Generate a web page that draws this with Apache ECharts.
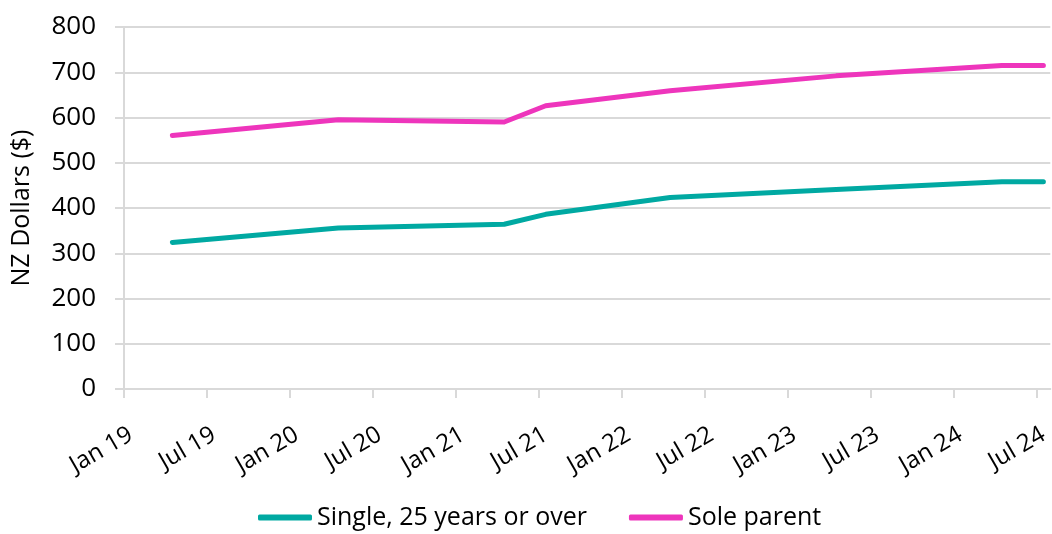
<!DOCTYPE html>
<html>
<head>
<meta charset="utf-8">
<script src="https://cdn.jsdelivr.net/npm/echarts@6/dist/echarts.min.js"></script>
<style>
html,body{margin:0;padding:0;background:#fff;}
#chart{width:1052px;height:534px;}
</style>
</head>
<body>
<div id="chart"></div>
<script>
// Data (dates are year-month of each observation)
const dates = ["2019-04", "2020-04", "2021-04", "2021-07", "2022-04", "2023-04", "2024-04", "2024-07"];
const single25 = [324, 356, 364, 386, 423, 441, 458, 458];
const soleParent = [560, 595, 590, 626, 659, 692, 715, 715];
const seriesNames = ["Single, 25 years or over", "Sole parent"];
const monthNames = ["Jan","Feb","Mar","Apr","May","Jun","Jul","Aug","Sep","Oct","Nov","Dec"];
const startYear = 2019;

// month index (months since Jan 2019), centred in its month slot
function monthIndex(d) {
  const [y, m] = d.split("-").map(Number);
  return (y - startYear) * 12 + (m - 1) + 0.5;
}
function tickLabel(v) {
  if (Math.abs(v - Math.round(v)) > 1e-6) return "";
  const n = Math.round(v);
  if (n % 6 !== 0) return "";
  const y = startYear + Math.floor(n / 12);
  return monthNames[n % 12] + " " + String(y).slice(2);
}

const font = "'Open Sans', 'Noto Sans', sans-serif";
const gridColor = "#d9d9d9";

const chart = echarts.init(document.getElementById("chart"), null, {renderer: "canvas"});
chart.setOption({
  animation: false,
  textStyle: {fontFamily: font, color: "#000"},
  grid: {left: 124, right: 0, top: 27, bottom: 145, containLabel: false},
  legend: {
    bottom: -1,
    left: 253,
    icon: "roundRect",
    itemWidth: 54,
    itemHeight: 6,
    itemGap: 42,
    textStyle: {fontFamily: font, fontSize: 25, color: "#000"},
    data: seriesNames
  },
  xAxis: {
    type: "value",
    min: 0,
    max: 67,
    interval: 6,
    axisLine: {show: true, lineStyle: {color: gridColor, width: 2}},
    axisTick: {show: true, length: 9, lineStyle: {color: gridColor, width: 2}},
    splitLine: {show: false},
    axisLabel: {
      rotate: 30,
      fontFamily: font,
      fontSize: 24,
      color: "#000",
      margin: 48,
      padding: [0, -8, 0, 0],
      showMaxLabel: false,
      formatter: tickLabel
    }
  },
  yAxis: {
    type: "value",
    min: 0,
    max: 800,
    interval: 100,
    name: "NZ Dollars ($)",
    nameLocation: "middle",
    nameGap: 90,
    nameRotate: 90,
    nameTextStyle: {fontFamily: font, fontSize: 25, color: "#000"},
    axisLine: {show: true, lineStyle: {color: gridColor, width: 2}},
    axisTick: {show: true, length: 9, lineStyle: {color: gridColor, width: 2}},
    splitLine: {show: true, lineStyle: {color: gridColor, width: 2}},
    axisLabel: {fontFamily: font, fontSize: 26, color: "#000", margin: 28}
  },
  series: [
    {
      name: seriesNames[0],
      type: "line",
      data: dates.map((d, i) => [monthIndex(d), single25[i]]),
      showSymbol: false,
      symbol: "none",
      lineStyle: {color: "#00a9a2", width: 5, cap: "round", join: "round"},
      itemStyle: {color: "#00a9a2"}
    },
    {
      name: seriesNames[1],
      type: "line",
      data: dates.map((d, i) => [monthIndex(d), soleParent[i]]),
      showSymbol: false,
      symbol: "none",
      lineStyle: {color: "#ee35bc", width: 5, cap: "round", join: "round"},
      itemStyle: {color: "#ee35bc"}
    }
  ]
});
</script>
</body>
</html>
